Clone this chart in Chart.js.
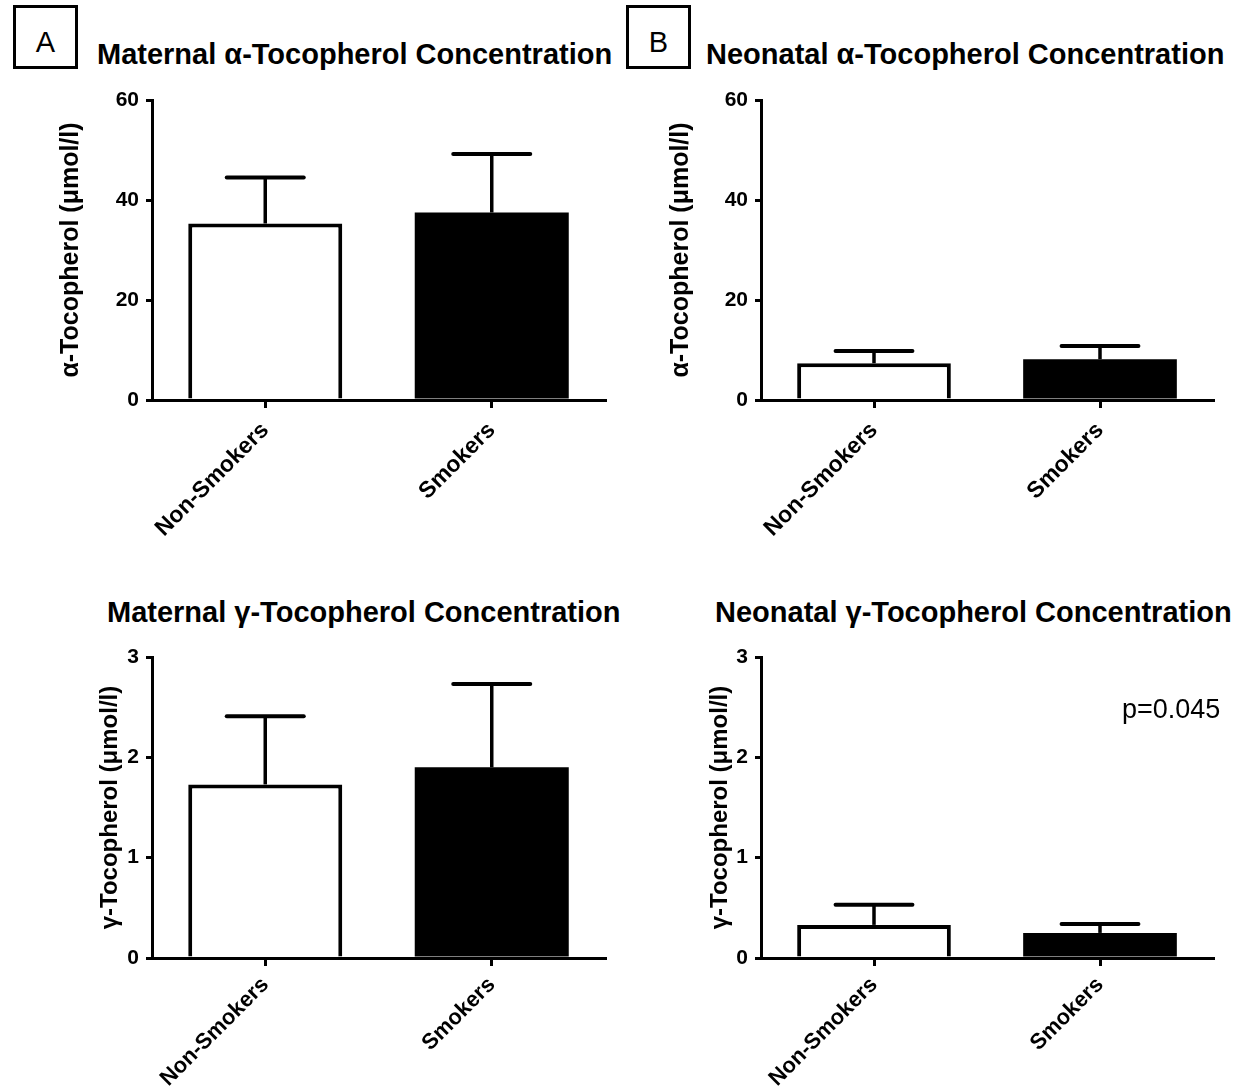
<!DOCTYPE html>
<html>
<head>
<meta charset="utf-8">
<script src="https://cdn.jsdelivr.net/npm/chart.js@4.4.1/dist/chart.umd.min.js"></script>
<style>
  html, body { margin: 0; padding: 0; background: #fff; }
  body { width: 1241px; height: 1091px; overflow: hidden; position: relative; font-family: "Liberation Sans", Arial, sans-serif; color: #000; }
  canvas { position: absolute; }
  .title { position: absolute; font-weight: bold; font-size: 29px; line-height: 29px; white-space: nowrap; }
  .box { position: absolute; border: 3px solid #000; box-sizing: border-box; width: 65px; height: 64px; font-size: 29px; line-height: 29px; text-align: center; padding-top: 20px; }
  .pval { position: absolute; font-size: 27px; line-height: 27px; white-space: nowrap; }
</style>
</head>
<body>
<div class="box" style="left:13px;top:5px;">A</div>
<div class="box" style="left:626px;top:5px;">B</div>
<div class="title" style="left:97px;top:40px;">Maternal α-Tocopherol Concentration</div>
<div class="title" style="left:706px;top:40px;">Neonatal α-Tocopherol Concentration</div>
<div class="title" style="left:107px;top:598px;">Maternal γ-Tocopherol Concentration</div>
<div class="title" style="left:715px;top:598px;">Neonatal γ-Tocopherol Concentration</div>

<canvas id="cA" width="620" height="560" style="left:0px;top:0px;width:620px;height:560px;"></canvas>
<canvas id="cB" width="621" height="560" style="left:620px;top:0px;width:621px;height:560px;"></canvas>
<canvas id="cC" width="620" height="534" style="left:0px;top:557px;width:620px;height:534px;"></canvas>
<canvas id="cD" width="621" height="534" style="left:620px;top:557px;width:621px;height:534px;"></canvas>

<div class="pval" style="left:1122px;top:696px;">p=0.045</div>

<script>
// ---- data ----
const categories = ['Non-Smokers', 'Smokers'];
const maternalAlpha = [35.3, 37.5];
const maternalAlphaErr = [9.2, 11.7];
const neonatalAlpha = [7.35, 8.15];
const neonatalAlphaErr = [2.45, 2.65];
const maternalGamma = [1.73, 1.90];
const maternalGammaErr = [0.68, 0.83];
const neonatalGamma = [0.33, 0.25];
const neonatalGammaErr = [0.20, 0.09];
const alphaTicks = [0, 20, 40, 60];
const gammaTicks = [0, 1, 2, 3];
const barFills = ['#ffffff', '#000000'];

Chart.defaults.font.family = '"Liberation Sans", Arial, sans-serif';
Chart.defaults.color = '#000';

const errorBars = {
  id: 'errorBars',
  afterDatasetsDraw(chart, args, opts) {
    const ctx = chart.ctx;
    const y = chart.scales.y;
    const meta = chart.getDatasetMeta(0);
    const vals = chart.data.datasets[0].data;
    ctx.save();
    ctx.strokeStyle = '#000';
    meta.data.forEach((bar, i) => {
      const yBase = y.getPixelForValue(vals[i]);
      const yTop = y.getPixelForValue(vals[i] + opts.errors[i]);
      const half = bar.width / 4;
      ctx.lineWidth = 3.5;
      ctx.lineCap = 'butt';
      ctx.beginPath();
      ctx.moveTo(bar.x, yBase);
      ctx.lineTo(bar.x, yTop);
      ctx.stroke();
      ctx.lineWidth = 4;
      ctx.lineCap = 'round';
      ctx.beginPath();
      ctx.moveTo(bar.x - half, yTop);
      ctx.lineTo(bar.x + half, yTop);
      ctx.stroke();
    });
    ctx.restore();
  }
};

function makeChart(id, values, errors, ticks, yTitle, cfg) {
  const step = ticks[1] - ticks[0];
  return new Chart(document.getElementById(id), {
    type: 'bar',
    data: {
      labels: categories,
      datasets: [{
        data: values,
        backgroundColor: barFills,
        borderColor: '#000',
        borderWidth: [4, 0],
        borderSkipped: 'start',
        barPercentage: 0.68,
        categoryPercentage: 1.0
      }]
    },
    options: {
      responsive: false,
      animation: false,
      events: [],
      layout: { padding: { top: cfg.padTop, right: cfg.padRight, left: 0, bottom: 0 } },
      plugins: {
        legend: { display: false },
        tooltip: { enabled: false },
        errorBars: { errors: errors }
      },
      scales: {
        x: {
          type: 'category',
          offset: true,
          afterFit: (s) => { s.height = cfg.xHeight; },
          border: { display: true, color: '#000', width: 3 },
          grid: { display: true, offset: false, drawOnChartArea: false, drawTicks: true, tickLength: 8, tickWidth: 3, tickColor: '#000', color: '#000', lineWidth: 3 },
          ticks: { minRotation: 45, maxRotation: 45, padding: cfg.xPad, color: '#000', font: { size: cfg.xSize, weight: 'bold' }, autoSkip: false }
        },
        y: {
          min: ticks[0],
          max: ticks[ticks.length - 1],
          afterFit: (s) => { s.width = cfg.yWidth; },
          afterBuildTicks: (s) => { s.ticks = ticks.map(v => ({ value: v })); },
          border: { display: true, color: '#000', width: 3 },
          grid: { display: true, drawOnChartArea: false, drawTicks: true, tickLength: 6, tickWidth: 3, tickColor: '#000', color: '#000', lineWidth: 3 },
          ticks: { stepSize: step, padding: 7, color: '#000', font: { size: 21, weight: 'bold' } },
          title: { display: true, text: yTitle, color: '#000', font: { size: cfg.titleSize, weight: 'bold' }, padding: { top: cfg.titlePad, bottom: 0 } }
        }
      }
    },
    plugins: [errorBars]
  });
}

makeChart('cA', maternalAlpha, maternalAlphaErr, alphaTicks, 'α-Tocopherol (μmol/l)',
  { padTop: 100, padRight: 15, xHeight: 160, yWidth: 152, titlePad: 56, titleSize: 25, xSize: 23, xPad: 9 });
makeChart('cB', neonatalAlpha, neonatalAlphaErr, alphaTicks, 'α-Tocopherol (μmol/l)',
  { padTop: 100, padRight: 28, xHeight: 160, yWidth: 141, titlePad: 46, titleSize: 25, xSize: 23, xPad: 9 });
makeChart('cC', maternalGamma, maternalGammaErr, gammaTicks, 'γ-Tocopherol (μmol/l)',
  { padTop: 100, padRight: 15, xHeight: 133, yWidth: 152, titlePad: 96, titleSize: 24, xSize: 22, xPad: 6 });
makeChart('cD', neonatalGamma, neonatalGammaErr, gammaTicks, 'γ-Tocopherol (μmol/l)',
  { padTop: 100, padRight: 28, xHeight: 133, yWidth: 141, titlePad: 86, titleSize: 24, xSize: 22, xPad: 6 });
</script>
</body>
</html>
